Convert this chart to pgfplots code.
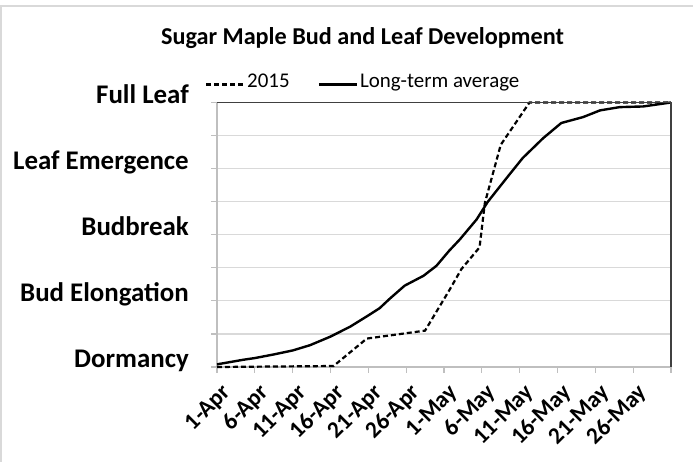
\documentclass[border=0pt]{standalone}
\usepackage{pgfplots}
\pgfplotsset{compat=1.18}
\usepackage{fontspec}
\setmainfont{Carlito}
\definecolor{gridc}{HTML}{D9D9D9}
\definecolor{axc}{HTML}{BFBFBF}
\definecolor{darkc}{HTML}{404040}
\definecolor{framec}{HTML}{D9D9D9}
\begin{document}
\begin{tikzpicture}
\path[use as bounding box] (0,0) rectangle (693bp,462bp);
\draw[framec, line width=2bp] (1bp,0) -- (1bp,456bp) -- (693bp,456bp);
\node[font=\fontsize{24.3}{29}\selectfont\bfseries, anchor=base] at (362.5bp,417bp) {Sugar Maple Bud and Leaf Development};
\begin{axis}[
  at={(217bp,95bp)}, anchor=south west,
  width=454bp, height=264.5bp, scale only axis,
  xmin=0, xmax=60, ymin=0, ymax=4,
  clip=false,
  axis x line*=bottom, axis y line*=left,
  axis line style={axc, line width=1.2bp},
  xtick={0,5,...,60},
  xticklabels={1-Apr,6-Apr,11-Apr,16-Apr,21-Apr,26-Apr,1-May,6-May,11-May,16-May,21-May,26-May,{}},
  ytick={0,0.5,...,4},
  yticklabels={Dormancy,{},Bud Elongation,{},Budbreak,{},Leaf Emergence,{},Full Leaf},
  ymajorgrids, grid style={gridc, line width=1.2bp},
  tick align=outside, major tick length=5.5bp,
  tick style={axc, line width=1.2bp},
  yticklabel style={font=\fontsize{27}{32}\selectfont\bfseries, text height=0.75em, text depth=0.25em, inner sep=0pt, anchor=east, xshift=-22.5bp, yshift=1.5bp},
  xticklabel style={font=\fontsize{23.5}{28}\selectfont\bfseries, text height=0.75em, text depth=0.25em, inner sep=0pt, xshift=13bp, yshift=-19bp, rotate=45, anchor=east},
  legend style={at={(0.322,1.068)}, anchor=center, draw=none, fill=none, inner sep=0pt,
    font=\fontsize{21}{25}\selectfont, legend columns=2,
    nodes={inner xsep=2bp, inner ysep=0pt, text height=0.75em, text depth=0.25em},
    /tikz/every even column/.append style={column sep=26bp}},
  legend cell align=left,
  legend image code/.code={\draw[#1] (0bp,0bp) -- (38bp,0bp);},
]
\addplot[black, line width=2.2bp, dash pattern=on 5bp off 3bp] coordinates {
(0,0) (15.4,0.015) (19.8,0.43) (27.5,0.55) (30.8,1.18) (32.3,1.48) (34.7,1.81) (35.4,2.48) (37.5,3.36) (41.3,4.0) (60,4.0)
};
\addlegendentry{2015}
\addplot[black, line width=2.4bp] coordinates {
(0,0.04) (2,0.08) (3.5,0.11) (5,0.135) (7.5,0.19) (10,0.25) (12.3,0.33) (15,0.46) (17.6,0.61) (20,0.78) (21.5,0.89) (22.9,1.04) (24.8,1.23) (27.3,1.38) (29,1.53) (30.7,1.76) (32.1,1.93) (34.3,2.23) (35.8,2.50) (38.5,2.89) (40.4,3.16) (43.1,3.46) (45.5,3.69) (48.4,3.78) (50.6,3.88) (53.2,3.93) (56.3,3.94) (60,4.0)
};
\addlegendentry{Long-term average}
\draw[darkc, line width=1.2bp] (rel axis cs:0,1) -- (rel axis cs:1,1) -- (rel axis cs:1,0);
\end{axis}
\end{tikzpicture}
\end{document}
